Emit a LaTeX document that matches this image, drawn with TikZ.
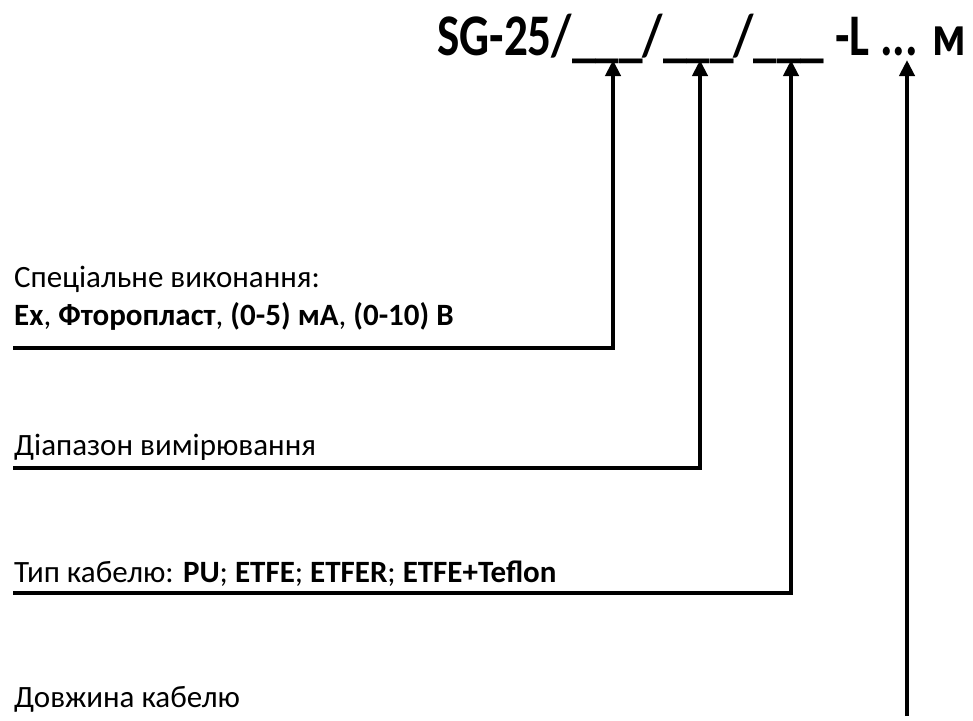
\documentclass[tikz,border=0pt]{standalone}
\usepackage{fontspec}
\setmainfont{Carlito}
\newfontfamily\titlefont{Carlito}[FakeStretch=0.8]
\usetikzlibrary{arrows.meta}
\begin{document}
\begin{tikzpicture}[x=1pt,y=-1pt,
  lbl/.style={anchor=base west,inner sep=0pt,font=\fontsize{31}{36}\selectfont},
  conn/.style={line width=4pt,line join=miter,-{Triangle[length=16pt,width=15pt]}}]
\useasboundingbox (0,0) rectangle (973,720);
\node[anchor=base west,inner sep=0pt,font=\titlefont\fontsize{59}{66}\selectfont\bfseries] (title) at (437,55) {SG-25/\_\_\_/\_\_\_/\_\_\_ -L ... м};
\node[lbl] (l1a) at (14,287) {Спеціальне виконання:};
\node[lbl] (l1b) at (14,325) {\textbf{Ex}, \textbf{Фторопласт}, \textbf{(0-5) мА}, \textbf{(0-10) В}};
\node[lbl] (l2) at (14,455) {Діапазон вимірювання};
\node[lbl] (l3) at (14,582) {Тип кабелю: \textbf{PU}; \textbf{ETFE}; \textbf{ETFER}; \textbf{ETFE+Teflon}};
\node[lbl] (l4) at (14,707) {Довжина кабелю};
\coordinate (t1) at (613,60);
\coordinate (t2) at (700,60);
\coordinate (t3) at (791,60);
\coordinate (t4) at (907,60);
\coordinate (s1) at (13,348);
\coordinate (s2) at (13,468);
\coordinate (s3) at (13,593);
\coordinate (s4) at (907,716);
\draw[conn] (s1) -- (s1 -| t1) -- (t1);
\draw[conn] (s2) -- (s2 -| t2) -- (t2);
\draw[conn] (s3) -- (s3 -| t3) -- (t3);
\draw[conn] (s4) -- (t4);
\end{tikzpicture}
\end{document}
